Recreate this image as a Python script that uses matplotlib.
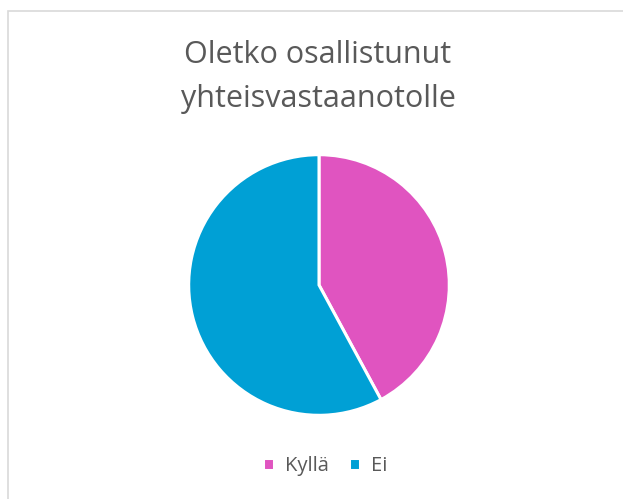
import matplotlib.pyplot as plt
from matplotlib.patches import Rectangle

# data
labels = ["Kyllä", "Ei"]
values = [8, 11]
colors = ["#E054C0", "#00A0D5"]

plt.rcParams["font.family"] = ["Open Sans", "DejaVu Sans"]

fig = plt.figure(figsize=(6.23, 4.99), dpi=100)
fig.patch.set_facecolor("white")

# chart area border (cropped on right/bottom like the reference)
fig.patches.append(Rectangle((7.5 / 623, -0.1), 1.0, (499 - 10.5) / 499 + 0.1,
                             transform=fig.transFigure, fill=False,
                             edgecolor="#D9D9D9", linewidth=1.2))

ax = fig.add_axes([190 / 623, 85 / 499, 258 / 623, 258 / 499])
wedges, _ = ax.pie(values, colors=colors, startangle=90, counterclock=False,
                   wedgeprops=dict(edgecolor="white", linewidth=2.2))
ax.set_xlim(-0.99, 0.99)
ax.set_ylim(-0.99, 0.99)
ax.set_aspect("equal")

fig.text(318 / 623, 1 - 77 / 499, "Oletko osallistunut\nyhteisvastaanotolle",
         ha="center", va="center", fontsize=22, color="#595959", linespacing=1.6)

leg = fig.legend(wedges, labels, loc="center", bbox_to_anchor=(325 / 623, 1 - 466 / 499),
                 ncol=2, frameon=False, fontsize=14.5, handlelength=0.55, handleheight=0.55,
                 handletextpad=0.55, columnspacing=1.0, labelcolor="#595959")

plt.savefig("out.png", dpi=100)
